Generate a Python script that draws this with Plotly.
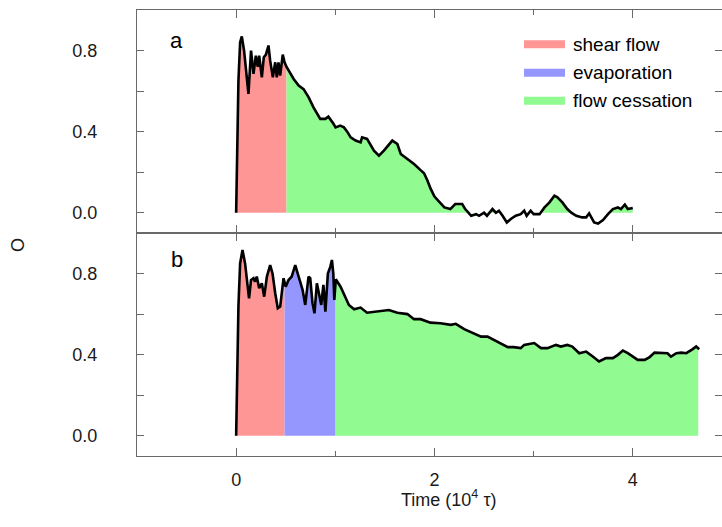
import numpy as np
import plotly.graph_objects as go
from plotly.subplots import make_subplots

# ---- data ----
time_a = [0, 0.01, 0.023, 0.04, 0.057, 0.08, 0.105, 0.124, 0.15, 0.175,
          0.198, 0.218, 0.232, 0.259, 0.279, 0.30, 0.326, 0.343, 0.37, 0.394,
          0.41, 0.427, 0.444, 0.47, 0.488, 0.51, 0.58, 0.63, 0.68, 0.73,
          0.78, 0.848, 0.90, 0.93, 0.98, 1.003, 1.05, 1.087, 1.12, 1.155,
          1.205, 1.255, 1.27, 1.32, 1.39, 1.44, 1.49, 1.54, 1.575, 1.626,
          1.66, 1.727, 1.794, 1.86, 1.895, 1.93, 1.96, 2.0, 2.05, 2.10,
          2.16, 2.21, 2.28, 2.31, 2.37, 2.42, 2.45, 2.50, 2.53, 2.585,
          2.62, 2.65, 2.687, 2.73, 2.77, 2.82, 2.87, 2.905, 2.93, 2.97,
          3.0, 3.06, 3.11, 3.16, 3.21, 3.24, 3.29, 3.34, 3.38, 3.43,
          3.49, 3.53, 3.56, 3.61, 3.65, 3.70, 3.75, 3.80, 3.85, 3.88,
          3.92, 3.95, 4.0]
order_a = [0, 0.35, 0.65, 0.84, 0.87, 0.80, 0.66, 0.586, 0.80, 0.685,
           0.775, 0.72, 0.775, 0.668, 0.767, 0.78, 0.825, 0.75, 0.668, 0.742,
           0.668, 0.742, 0.677, 0.78, 0.742, 0.718, 0.66, 0.627, 0.61, 0.57,
           0.52, 0.463, 0.463, 0.474, 0.44, 0.421, 0.43, 0.421, 0.40, 0.372,
           0.356, 0.347, 0.372, 0.364, 0.306, 0.281, 0.306, 0.339, 0.356, 0.339,
           0.29, 0.265, 0.24, 0.21, 0.195, 0.158, 0.12, 0.08, 0.051, 0.026,
           0.018, 0.043, 0.043, 0.018, -0.015, -0.007, -0.015, 0.0, -0.015, 0.018,
           0.0, 0.01, -0.015, -0.048, -0.031, -0.015, -0.007, 0.01, -0.015, 0.01,
           -0.007, -0.007, 0.026, 0.051, 0.084, 0.076, 0.051, 0.018, 0.0, -0.015,
           -0.023, -0.023, -0.003, -0.048, -0.053, -0.036, -0.007, 0.018, 0.026, 0.018,
           0.04, 0.018, 0.023]

time_b = [0, 0.012, 0.023, 0.04, 0.064, 0.09, 0.117, 0.13, 0.15, 0.175,
          0.19, 0.208, 0.232, 0.259, 0.283, 0.31, 0.343, 0.367, 0.394, 0.42,
          0.444, 0.46, 0.478, 0.50, 0.528, 0.56, 0.596, 0.63, 0.67, 0.697,
          0.73, 0.747, 0.77, 0.79, 0.814, 0.838, 0.858, 0.88, 0.90, 0.925,
          0.95, 0.966, 0.98, 0.99, 1.005, 1.053, 1.10, 1.137, 1.19, 1.255,
          1.32, 1.424, 1.54, 1.626, 1.727, 1.794, 1.86, 1.96, 2.06, 2.165,
          2.215, 2.30, 2.385, 2.47, 2.535, 2.60, 2.67, 2.74, 2.80, 2.87,
          2.905, 3.006, 3.074, 3.14, 3.225, 3.275, 3.34, 3.39, 3.46, 3.53,
          3.60, 3.66, 3.73, 3.80, 3.85, 3.90, 3.95, 4.0, 4.05, 4.12,
          4.17, 4.22, 4.285, 4.35, 4.385, 4.44, 4.49, 4.54, 4.605, 4.64, 4.67]
order_b = [0, 0.3, 0.637, 0.85, 0.916, 0.85, 0.72, 0.678, 0.768, 0.777,
           0.76, 0.785, 0.728, 0.752, 0.686, 0.785, 0.842, 0.80, 0.703, 0.629,
           0.637, 0.72, 0.777, 0.735, 0.768, 0.785, 0.842, 0.785, 0.72, 0.645,
           0.785, 0.777, 0.654, 0.604, 0.752, 0.695, 0.645, 0.744, 0.612, 0.80,
           0.834, 0.867, 0.80, 0.67, 0.772, 0.735, 0.686, 0.645, 0.624, 0.632,
           0.607, 0.612, 0.62, 0.607, 0.60, 0.575, 0.575, 0.558, 0.555, 0.547,
           0.552, 0.526, 0.506, 0.489, 0.489, 0.473, 0.453, 0.437, 0.437, 0.432,
           0.448, 0.457, 0.432, 0.432, 0.448, 0.44, 0.448, 0.44, 0.407, 0.415,
           0.39, 0.366, 0.383, 0.383, 0.399, 0.42, 0.407, 0.39, 0.374, 0.374,
           0.388, 0.41, 0.407, 0.407, 0.39, 0.407, 0.41, 0.407, 0.427, 0.44, 0.427]

# phase boundaries (time, 10^4 tau)
phases_a = [("shear flow", 0.0, 0.508), ("flow cessation", 0.508, 4.0)]
phases_b = [("shear flow", 0.0, 0.488), ("evaporation", 0.488, 1.003),
            ("flow cessation", 1.003, 4.66)]

legend_names = ["shear flow", "evaporation", "flow cessation"]
phase_colors = {"shear flow": "rgb(255,150,150)",
                "evaporation": "rgb(150,150,255)",
                "flow cessation": "rgb(145,250,145)"}
panel_labels = ["a", "b"]


def segment(x, y, a, b):
    x = np.asarray(x, float)
    y = np.asarray(y, float)
    m = (x > a) & (x < b)
    xs = np.concatenate([[a], x[m], [b]])
    ys = np.concatenate([[np.interp(a, x, y)], y[m], [np.interp(b, x, y)]])
    return xs, np.maximum(ys, 0)


fig = make_subplots(rows=2, cols=1, shared_xaxes=True, vertical_spacing=0)

for row, (tx, oy, phases) in enumerate([(time_a, order_a, phases_a),
                                         (time_b, order_b, phases_b)], start=1):
    for name, a, b in phases:
        xs, ys = segment(tx, oy, a, b)
        fig.add_trace(go.Scatter(x=xs, y=ys, mode="lines", fill="tozeroy",
                                 fillcolor=phase_colors[name],
                                 line=dict(width=0, color=phase_colors[name]),
                                 showlegend=False, hoverinfo="skip"),
                      row=row, col=1)
    fig.add_trace(go.Scatter(x=tx, y=oy, mode="lines",
                             line=dict(color="black", width=2.6),
                             showlegend=False), row=row, col=1)

axis_col = "rgb(105,105,105)"
font = dict(family="Liberation Sans, Arial, sans-serif", size=18, color="#1a1a1a")

for r in (1, 2):
    fig.update_xaxes(range=[-1.0, 4.9], dtick=2, tick0=0, ticks="inside",
                     ticklen=8, tickwidth=1.2, tickcolor=axis_col,
                     minor=dict(dtick=1, tick0=0, ticks="inside", ticklen=5,
                                tickwidth=1.2, tickcolor=axis_col),
                     showline=True, linecolor=axis_col, linewidth=1.1,
                     mirror="ticks", showgrid=False, zeroline=False,
                     ticklabelstandoff=7, tickfont=font,
                     row=r, col=1)
    fig.update_yaxes(range=[-0.1, 1.0], dtick=0.4, tick0=0, tickformat=".1f",
                     ticks="inside", ticklen=7, tickwidth=1.2, tickcolor=axis_col,
                     minor=dict(dtick=0.2, tick0=0, ticks="inside", ticklen=7,
                                tickwidth=1.2, tickcolor=axis_col),
                     showline=True, linecolor=axis_col, linewidth=1.1,
                     mirror="ticks", showgrid=False, zeroline=False,
                     ticklabelstandoff=35, tickfont=font,
                     row=r, col=1)

# panel labels
fig.add_annotation(x=-0.6, y=0.85, xref="x", yref="y", text=panel_labels[0],
                   showarrow=False, font=dict(family=font["family"], size=22, color="black"))
fig.add_annotation(x=-0.6, y=0.87, xref="x2", yref="y2", text=panel_labels[1],
                   showarrow=False, font=dict(family=font["family"], size=22, color="black"))

# legend (drawn manually)
legend_rows_px = [44.3, 72.7, 100.7]
for name, py in zip(legend_names, legend_rows_px):
    y0 = (456 - (py + 4)) / 446
    y1 = (456 - (py - 4)) / 446
    fig.add_shape(type="rect", xref="paper", yref="paper",
                  x0=(524 - 137) / 585, x1=(565 - 137) / 585, y0=y0, y1=y1,
                  fillcolor=phase_colors[name], line=dict(width=0))
    fig.add_annotation(x=(571 - 137) / 585, y=(456 - py) / 446, xref="paper", yref="paper",
                       text=name, showarrow=False, xanchor="left", yanchor="middle",
                       font=dict(family=font["family"], size=19, color="black"))

# axis titles
fig.add_annotation(x=(448 - 137) / 585, y=(456 - 498) / 446, xref="paper", yref="paper",
                   text="Time (10<sup>4</sup> τ)", showarrow=False,
                   xanchor="center", yanchor="middle", font=font)
fig.add_annotation(x=(18 - 137) / 585, y=(456 - 245) / 446, xref="paper", yref="paper",
                   text="O", textangle=-90, showarrow=False,
                   xanchor="center", yanchor="middle", font=font)

fig.update_layout(width=722, height=527, margin=dict(l=137, r=0, t=10, b=71),
                  plot_bgcolor="white", paper_bgcolor="white", showlegend=False)

fig.write_html("out.html", config={"displayModeBar": False},
               post_script="document.body.style.margin='0';")
